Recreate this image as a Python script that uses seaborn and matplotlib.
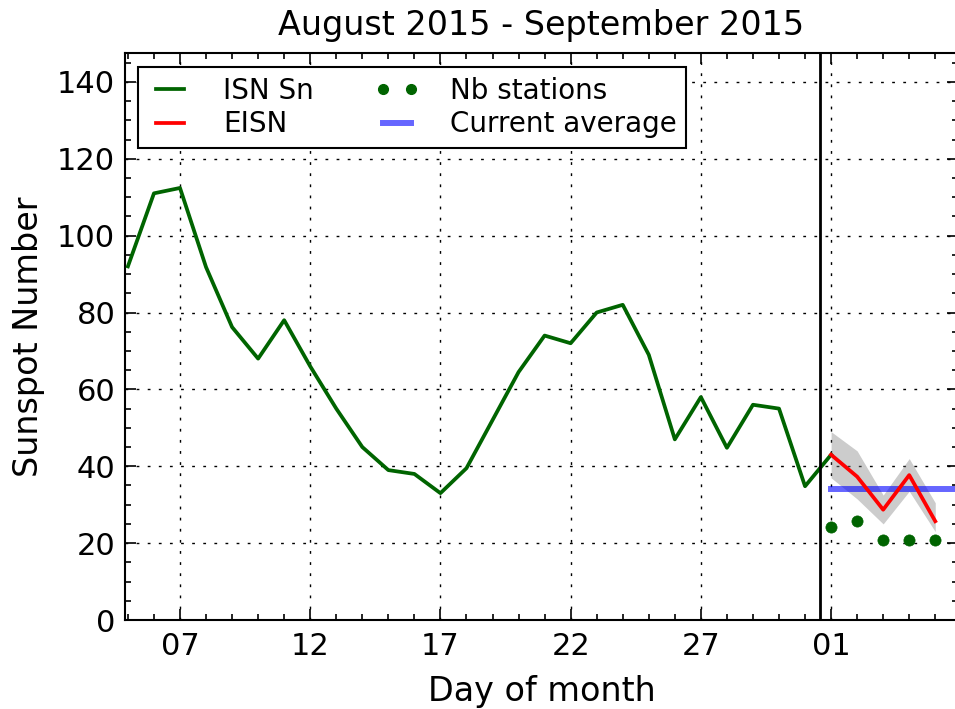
import matplotlib
matplotlib.use("Agg")
import matplotlib.pyplot as plt
from matplotlib.lines import Line2D
from matplotlib.ticker import MultipleLocator, FixedLocator, FixedFormatter
import matplotlib.dates as mdates
import seaborn as sns
import pandas as pd

# ---------------- data ----------------
isn_dates = ["2015-08-05", "2015-08-06", "2015-08-07", "2015-08-08", "2015-08-09",
             "2015-08-10", "2015-08-11", "2015-08-12", "2015-08-13", "2015-08-14",
             "2015-08-15", "2015-08-16", "2015-08-17", "2015-08-18", "2015-08-19",
             "2015-08-20", "2015-08-21", "2015-08-22", "2015-08-23", "2015-08-24",
             "2015-08-25", "2015-08-26", "2015-08-27", "2015-08-28", "2015-08-29",
             "2015-08-30", "2015-08-31", "2015-09-01"]
isn_values = [92, 111, 112.4, 91.8, 76.2, 68, 78, 66, 55, 45,
              39, 38, 33, 39.5, 52, 64.5, 74, 72, 80, 82,
              69, 47, 58, 44.8, 56, 55, 34.8, 43]

eisn_dates = ["2015-09-01", "2015-09-02", "2015-09-03", "2015-09-04", "2015-09-05"]
eisn_values = [43.0, 37.3, 28.7, 37.7, 25.7]
eisn_lower = [37.0, 31.5, 25.0, 33.5, 23.0]
eisn_upper = [49.0, 44.0, 32.5, 42.0, 30.5]
nb_stations = [24.2, 25.8, 20.7, 20.7, 20.7]
current_average = 34.2

x_tick_dates = ["2015-08-07", "2015-08-12", "2015-08-17", "2015-08-22",
                "2015-08-27", "2015-09-01"]
x_tick_labels = ["07", "12", "17", "22", "27", "01"]
y_ticks = [0, 20, 40, 60, 80, 100, 120, 140]

title = "August 2015 - September 2015"
x_label = "Day of month"
y_label = "Sunspot Number"

# ---------------- frames ----------------
isn_df = pd.DataFrame({"date": pd.to_datetime(isn_dates), "value": isn_values})
eisn_df = pd.DataFrame({"date": pd.to_datetime(eisn_dates), "value": eisn_values,
                        "lower": eisn_lower, "upper": eisn_upper,
                        "nb": nb_stations})

x_left = pd.Timestamp("2015-08-04 21:20")
x_right = pd.Timestamp("2015-09-05 21:00")
sep_marker = pd.Timestamp("2015-08-31 13:30")

plt.rcParams["font.family"] = ["DejaVu Sans"]

fig = plt.figure(figsize=(9.55, 7.09), dpi=100)
ax = fig.add_axes([0.1309, 0.1255, 0.8723, 0.7997])
ax.set_axisbelow(True)

# uncertainty band around EISN
ax.fill_between(eisn_df["date"], eisn_df["lower"], eisn_df["upper"],
                color="grey", alpha=0.4, linewidth=0, zorder=2)

sns.lineplot(data=isn_df, x="date", y="value", ax=ax, color="darkgreen",
             linewidth=2.7, zorder=4)
sns.lineplot(data=eisn_df, x="date", y="value", ax=ax, color="red",
             linewidth=2.7, zorder=5)
avg_df = pd.DataFrame({"date": [eisn_df["date"].iloc[0], x_right + pd.Timedelta(days=1)],
                       "value": [current_average, current_average]})
sns.lineplot(data=avg_df, x="date", y="value", ax=ax, color="blue", alpha=0.6,
             linewidth=4.3, zorder=3)
sns.scatterplot(data=eisn_df, x="date", y="nb", ax=ax, color="darkgreen",
                s=65, edgecolor="darkgreen", linewidth=0.5, zorder=6)

ax.axvline(sep_marker, color="black", linewidth=2, zorder=7)

ax.set_xlim(x_left, x_right)
ax.set_ylim(0, 147.5)

ax.xaxis.set_major_locator(FixedLocator(mdates.date2num(pd.to_datetime(x_tick_dates))))
ax.xaxis.set_major_formatter(FixedFormatter(x_tick_labels))
ax.xaxis.set_minor_locator(mdates.DayLocator())
ax.yaxis.set_major_locator(FixedLocator(y_ticks))
ax.yaxis.set_minor_locator(MultipleLocator(5))

ax.grid(True, which="major", color="black", linestyle=(0, (2, 6)), linewidth=1.0)

ax.tick_params(which="both", direction="in", top=True, right=True, width=1.2)
ax.tick_params(which="major", length=8, labelsize=22)
ax.tick_params(axis="x", which="major", pad=8.5)
ax.tick_params(axis="y", which="major", pad=7)
ax.tick_params(which="minor", length=4)
for s in ax.spines.values():
    s.set_linewidth(1.5)

ax.set_title(title, fontsize=24, pad=13)
ax.set_xlabel(x_label, fontsize=24, labelpad=10)
ax.set_ylabel(y_label, fontsize=24, labelpad=9)

handles = [Line2D([], [], color="darkgreen", linewidth=2.7),
           Line2D([], [], color="red", linewidth=2.7),
           Line2D([], [], color="darkgreen", linestyle="", marker="o", markersize=7),
           Line2D([], [], color="blue", alpha=0.6, linewidth=4.3)]
labels = ["ISN Sn", "EISN", "Nb stations", "Current average"]
leg = ax.legend(handles, labels, ncol=2, loc="upper left",
                bbox_to_anchor=(0.0157, 0.975), borderaxespad=0, fontsize=20,
                numpoints=2, fancybox=False, framealpha=1, edgecolor="black",
                handlelength=1.6, handletextpad=1.1, columnspacing=2.2,
                labelspacing=0.2, borderpad=0.35)
leg.get_frame().set_linewidth(1.5)

fig.savefig("out.png", dpi=100)
